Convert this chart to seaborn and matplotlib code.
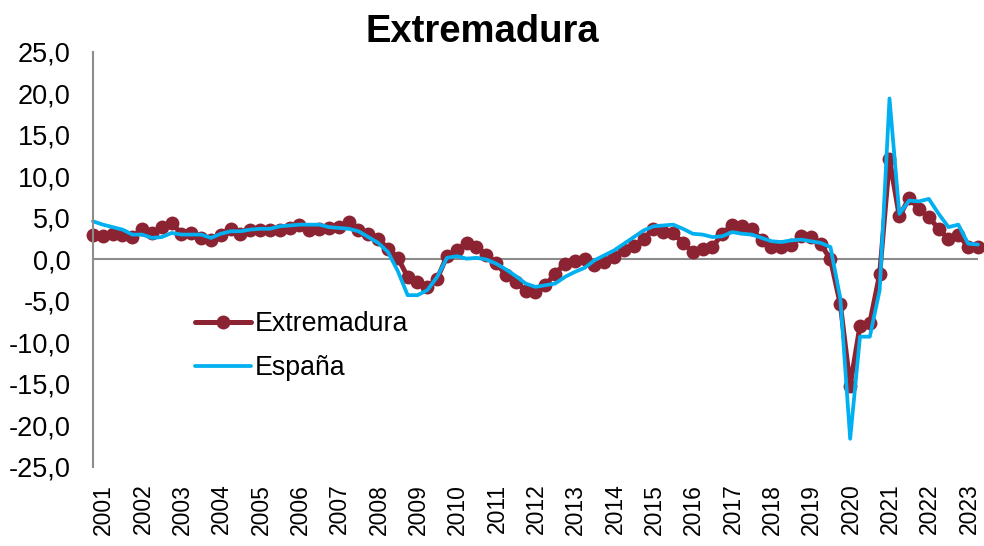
import numpy as np
import pandas as pd
import matplotlib
matplotlib.use("Agg")
import matplotlib.pyplot as plt
import seaborn as sns
from matplotlib.ticker import FuncFormatter

# quarterly year-on-year rates, 2001Q1 .. 2023Q3
extremadura = [
    2.9, 2.8, 3.1, 2.9, 2.7, 3.7, 3.2, 3.9, 4.4, 3.1, 3.2, 2.6,
    2.3, 3.0, 3.7, 3.1, 3.6, 3.6, 3.6, 3.6, 3.8, 4.1, 3.5, 3.7,
    3.8, 3.9, 4.5, 3.6, 3.1, 2.5, 1.3, 0.2, -2.1, -2.7, -3.3, -2.3,
    0.4, 1.1, 2.0, 1.5, 0.6, -0.4, -1.9, -2.7, -3.8, -3.9, -3.1, -1.7,
    -0.5, -0.2, 0.1, -0.7, -0.3, 0.3, 1.1, 1.6, 2.5, 3.7, 3.3, 3.2,
    2.0, 0.9, 1.3, 1.5, 3.1, 4.2, 4.0, 3.7, 2.3, 1.5, 1.5, 1.7,
    2.8, 2.7, 1.9, 0.0, -5.4, -15.2, -8.0, -7.6, -1.8, 12.1, 5.2, 7.4,
    6.1, 5.1, 3.7, 2.5, 3.0, 1.5, 1.5,
]
espana = [
    4.6, 4.2, 3.9, 3.6, 3.0, 3.0, 2.6, 2.7, 3.2, 3.0, 3.0, 3.0,
    2.6, 3.1, 3.4, 3.4, 3.6, 3.7, 3.7, 4.0, 4.1, 4.2, 4.2, 4.2,
    3.9, 3.8, 3.7, 3.4, 2.7, 2.0, 0.9, -1.4, -4.3, -4.3, -3.7, -2.1,
    0.2, 0.4, 0.1, 0.2, 0.0, -0.5, -1.2, -2.0, -2.9, -3.3, -3.1, -2.9,
    -2.1, -1.5, -1.0, -0.1, 0.5, 1.1, 1.9, 2.7, 3.5, 4.0, 4.1, 4.2,
    3.7, 3.1, 3.0, 2.7, 2.8, 3.3, 3.1, 3.0, 2.6, 2.2, 2.1, 2.3,
    2.4, 2.2, 2.0, 1.5, -4.7, -21.6, -9.3, -9.3, -3.7, 19.4, 5.5, 7.1,
    7.0, 7.3, 5.5, 3.9, 4.2, 1.9, 1.8,
]
years = list(range(2001, 2024))

df = pd.DataFrame({
    "t": np.arange(len(extremadura)),
    "Extremadura": extremadura,
    "España": espana,
})

sns.set_style("white")
plt.rcParams["font.family"] = ["Liberation Sans", "DejaVu Sans"]
plt.rcParams["text.color"] = "black"
plt.rcParams["xtick.color"] = "black"
plt.rcParams["ytick.color"] = "black"

fig = plt.figure(figsize=(9.84, 5.46), dpi=100)
ax = fig.add_axes([0.0945, 0.1447, 0.8994, 0.7601])

sns.lineplot(data=df, x="t", y="Extremadura", ax=ax, color="#8B2332",
             linewidth=3.6, marker="o", markersize=10, markeredgewidth=0,
             label="Extremadura", clip_on=False)
sns.lineplot(data=df, x="t", y="España", ax=ax, color="#00B0F0",
             linewidth=2.7, label="España", clip_on=False)

ax.set_xlim(0, len(extremadura) - 1)
ax.set_ylim(-25, 25)
ax.set_yticks(np.arange(-25, 26, 5))
ax.yaxis.set_major_formatter(FuncFormatter(lambda v, p: f"{v:.1f}".replace(".", ",")))
ax.set_xticks([4 * i + 1.1 for i in range(len(years))])
ax.set_xticklabels([str(y) for y in years], rotation=90)

ax.axhline(0, color="#8C8C8C", linewidth=1.5, zorder=1)
for s in ["top", "right", "bottom"]:
    ax.spines[s].set_visible(False)
ax.spines["left"].set_color("#8C8C8C")
ax.spines["left"].set_linewidth(1.5)

ax.tick_params(axis="y", direction="in", length=6, width=1.5, color="#8C8C8C",
               labelcolor="black", labelsize=19.5, pad=16)
ax.tick_params(axis="x", length=0, labelsize=16.5, pad=12, labelcolor="black")
ax.set_xlabel("")
ax.set_ylabel("")

fig.text(0.49, 1 - 32 / 546, "Extremadura", fontsize=27.5, fontweight="bold",
         ha="center", va="center", color="black")

ax.legend(loc="upper left", bbox_to_anchor=(0.088, 0.433), frameon=False,
          fontsize=19.3, handlelength=2.1, handletextpad=0.12, labelspacing=0.66)

fig.savefig("out.png", dpi=100)
